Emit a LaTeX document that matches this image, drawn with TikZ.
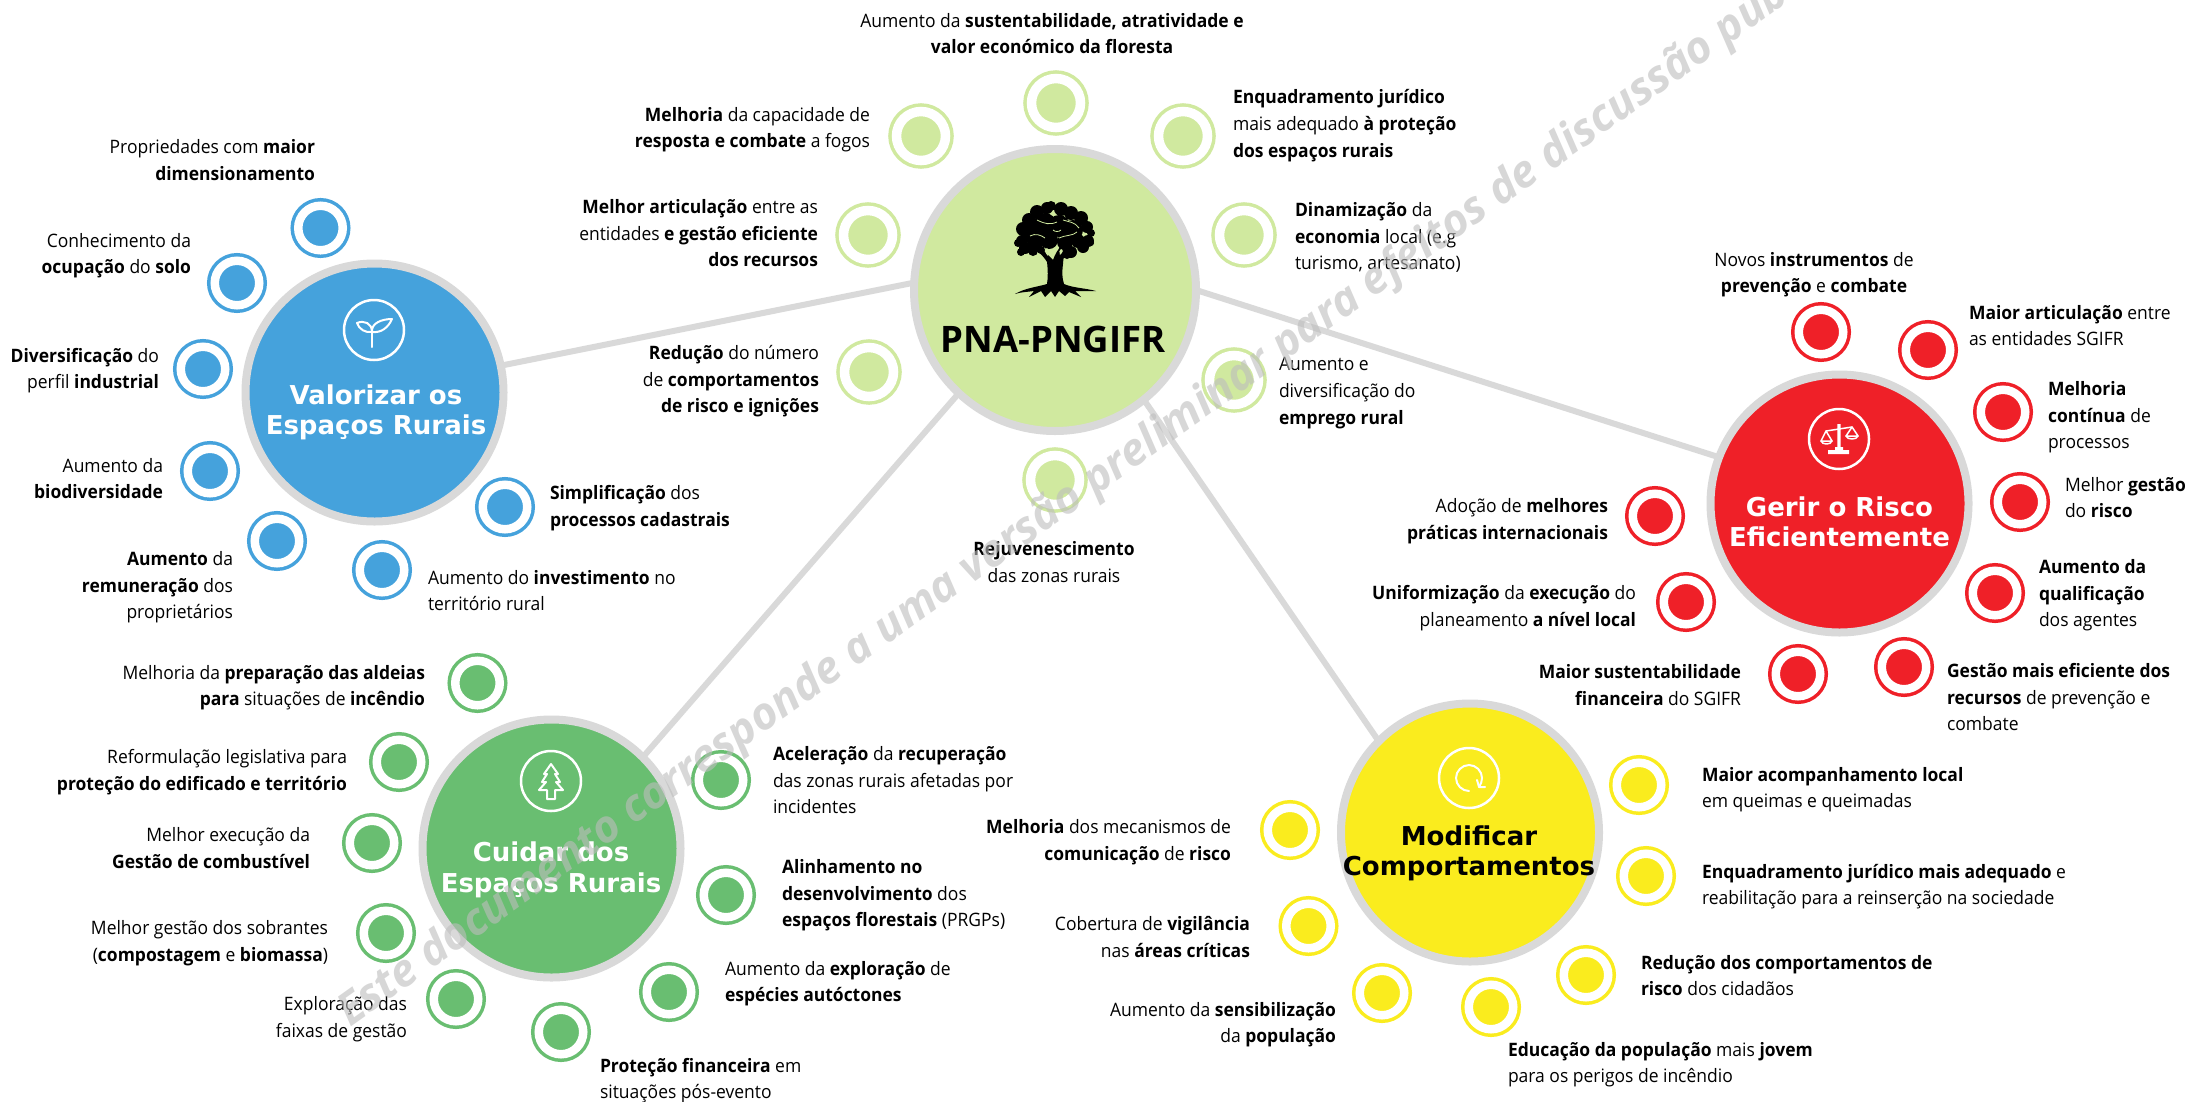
\documentclass[tikz,border=0pt]{standalone}
\usepackage{fontspec}
\setmainfont[FakeStretch=0.945]{Open Sans}
\newfontfamily\tfont{Open Sans}
\newfontfamily\hfont{DejaVu Sans}
\definecolor{cblue}{HTML}{45A2DC}
\definecolor{cred}{HTML}{EF2028}
\definecolor{cgreen}{HTML}{69BE71}
\definecolor{cyellow}{HTML}{FAEC1E}
\definecolor{clime}{HTML}{D0E99F}
\definecolor{cgray}{HTML}{D9D9D9}
\newcommand{\bo}[1]{\textbf{#1}}
\tikzset{
  hub/.style={circle,draw=cgray,line width=8pt,outer sep=0pt,inner sep=0pt,minimum size=258pt},
  bighub/.style={hub,minimum size=282pt},
  link/.style={draw=cgray,line width=6pt},
  sat/.style={circle,fill=#1,draw=#1,line width=3.5pt,double=white,double distance=8.5pt,inner sep=0pt,outer sep=0pt,minimum size=44.5pt},
  bigsat/.style={sat=#1,line width=3.5pt,double distance=9.5pt,minimum size=49pt},
  icon/.style={circle,draw=white,line width=2.5pt,inner sep=0pt,outer sep=0pt,minimum size=60pt},
  lbl/.style={inner sep=0pt,outer sep=0pt,yshift=-4pt,font=\fontsize{18.5}{26.8}\selectfont,text=black,execute at begin node=\strut,execute at end node=\strut},
  lr/.style={lbl,align=right,anchor=east},
  ll/.style={lbl,align=left,anchor=west},
  lc/.style={lbl,align=center,anchor=center},
  head/.style={inner sep=0pt,align=center,font=\hfont\bfseries\fontsize{26}{30.5}\selectfont},
  mark/.style={line width=2pt,draw=#1,line cap=round,line join=round}
}
\begin{document}
\begin{tikzpicture}[x=1pt,y=-1pt]
\useasboundingbox (0,0) rectangle (2192,1101);
\fill[white] (0,0) rectangle (2192,1101);
% hubs
\node[bighub,fill=clime] (pna) at (1055,290) {};
\node[hub,fill=cblue] (val) at (374.5,392.5) {};
\node[hub,fill=cred] (ger) at (1839.5,503.5) {};
\node[hub,fill=cgreen] (cui) at (551.5,848.5) {};
\node[hub,fill=cyellow] (mod) at (1470,832.5) {};
% connectors
\draw[link] (pna.177) -- (val.12.5);
\draw[link] (pna.0) -- (ger.159.7);
\draw[link] (pna.227.5) -- (cui.45);
\draw[link] (pna.309.7) -- (mod.135);
% satellites
\foreach \n/\x/\y in {a1/1056/103,a2/921/136,a3/1183/136,a4/1244/235,a5/1234/380,a6/1055/480,a7/868/235,a8/869/372}
  \node[bigsat=clime] (\n) at (\x,\y) {};
\foreach \n/\x/\y in {b1/320.5/228,b2/237/283,b3/203/369,b4/210/471,b5/277/541,b6/382/570,b7/505/507}
  \node[sat=cblue] (\n) at (\x,\y) {};
\foreach \n/\x/\y in {c1/1821/332,c2/1928/350,c3/2003/412,c4/2020/502,c5/1995/593,c6/1904/667,c7/1798/674,c8/1686/602,c9/1655/516}
  \node[sat=cred] (\n) at (\x,\y) {};
\foreach \n/\x/\y in {d1/477.5/683,d2/399/762,d3/372/843,d4/386/933,d5/456/999,d6/561/1032,d7/669/992,d8/726/895,d9/721/780}
  \node[sat=cgreen] (\n) at (\x,\y) {};
\foreach \n/\x/\y in {e1/1290/830,e2/1308.5/926,e3/1382/993,e4/1491/1007,e5/1586/975,e6/1646/876,e7/1639/785}
  \node[sat=cyellow] (\n) at (\x,\y) {};
% hub titles
\node[inner sep=0pt,font=\tfont\bfseries\fontsize{36.5}{40}\selectfont] (pnat) at (1053,339) {PNA-PNGIFR};
\node[head,text=white] (valt) at (376,412.5) {Valorizar os\\Espaços Rurais};
\node[head,text=white] (gert) at (1839.5,522) {Gerir o Risco\\Eficientemente};
\node[head,text=white] (cuit) at (551,870) {Cuidar dos\\Espaços Rurais};
\node[head,text=black] (modt) at (1469,853.5) {Modificar\\Comportamentos};
% icons
\node[icon] (ival) at (374,330) {};
\node[icon] (iger) at (1839,439) {};
\node[icon] (icui) at (551,781) {};
\node[icon] (imod) at (1469,778) {};
% sprout
\begin{scope}[shift={(374,331)},mark=white]
\draw (-2,-3) -- (-2,16);
\draw (-17,-8) .. controls (-10,-11) and (-2,-8) .. (-2,1) .. controls (-9,2) and (-15,-2) .. (-17,-8) -- cycle;
\draw (18,-12) .. controls (14,-3) and (7,2) .. (-2,1) .. controls (-3,-8) and (8,-12) .. (18,-12) -- cycle;
\end{scope}
% scales
\begin{scope}[shift={(1839,440)}]
\fill[white] (-1.7,-16) rectangle (1.7,8) (-11,10) rectangle (10,14) (-4,7) rectangle (4,11);
\draw[mark=white,line width=1.5pt] (-13,-9) -- (13,-13);
\draw[mark=white,line width=1.5pt] (-18,1) -- (-13,-9) -- (-7,1) -- cycle;
\draw[mark=white,line width=1.5pt] (7,-4) -- (13,-13) -- (19,-4) -- cycle;
\draw[mark=white,line width=1.5pt] (-18,1) .. controls (-17,5) and (-8,5) .. (-7,1);
\draw[mark=white,line width=1.5pt] (7,-4) .. controls (8,0) and (18,0) .. (19,-4);
\end{scope}
% fir
\begin{scope}[shift={(551,781)},mark=white]
\draw (0,-17) -- (7,-7) -- (4,-7) -- (9,1) -- (5,1) -- (12,9) -- (4,9) -- (4,18) -- (-4,18) -- (-4,9) -- (-12,9) -- (-5,1) -- (-9,1) -- (-4,-7) -- (-7,-7) -- cycle;
\end{scope}
% refresh
\begin{scope}[shift={(1469,778)}]
\draw[mark=white] (0,13) .. controls (-7,13) and (-13,7) .. (-13,0) .. controls (-13,-7) and (-7,-13) .. (0,-13) .. controls (7,-13) and (13,-7) .. (13,0) .. controls (13,3) and (12,6) .. (10,9);
\draw[mark=white] (8,2) -- (10,9) -- (16,9);
\end{scope}
% tree
\begin{scope}[shift={(1055,250)}]
\foreach \x/\y/\r in {-33/-9/6,-37/-7/4,-30/-2/6,-34/2/4,-32/-21/7,-26/-30/7,-18/-38/7,-8/-42/6,-4/-44/5,6/-41/7,16/-37/7,26/-32/7,32/-23/6,36/-17/4,33/-9/6,36/-7/3,28/-3/6,16/2/6,-22/-18/10,-10/-26/11,4/-24/11,18/-20/10,-20/-6/8,-6/-10/9,10/-8/8,23/-9/7,-14/0/4,-22/1/5,12/5/4}
  \fill[black] (\x,\y) circle[radius=\r pt];
\fill[black] (-8,12) .. controls (-12,5) and (-19,0) .. (-21,-2) -- (-16,-4) .. controls (-12,0) and (-6,6) .. (-2,10) .. controls (0,4) and (4,-2) .. (6,-4) -- (14,-2) .. controls (10,2) and (8,8) .. (8,14) .. controls (7,22) and (7,28) .. (9,34) .. controls (18,38) and (30,38) .. (41,41) .. controls (30,41) and (22,41) .. (20,41) -- (26,47) -- (14,42) -- (10,46) -- (4,41) -- (0,47) -- (-4,41) -- (-10,47) -- (-14,41) -- (-26,47) -- (-21,41) .. controls (-28,42) and (-34,42) .. (-40,44) .. controls (-30,38) and (-18,37) .. (-8,34) .. controls (-7,28) and (-7,20) .. (-8,12) -- cycle;
\fill[clime] (-7,6) .. controls (-6,3) and (-5,0) .. (-8,-2) .. controls (-11,0) and (-10,3) .. (-7,6) -- cycle (5,5) .. controls (4,2) and (4,0) .. (6,-1) .. controls (9,0) and (8,2) .. (5,5) -- cycle;
\draw[clime,line width=.8pt] (-18,-30) .. controls (-10,-26) and (-5,-25) .. (2,-28) (8,-30) .. controls (14,-28) and (20,-28) .. (24,-22) (-25,-14) .. controls (-20,-17) and (-14,-15) .. (-10,-12) (4,-12) .. controls (10,-15) and (18,-14) .. (22,-18) (-2,-20) .. controls (0,-18) and (4,-18) .. (6,-20);
\end{scope}
% labels: central
\node[lc] (la1) at (1052,33.5) {Aumento da \bo{sustentabilidade, atratividade e}\\\bo{valor económico da floresta}};
\node[ll] (la2) at (1233,123.5) {\bo{Enquadramento jurídico}\\mais adequado \bo{à proteção}\\\bo{dos espaços rurais}};
\node[ll] (la3) at (1295,236) {\bo{Dinamização} da\\\bo{economia} local (e.g\\turismo, artesanato)};
\node[ll] (la4) at (1279,391) {Aumento e\\diversificação do\\\bo{emprego rural}};
\node[lc] (la5) at (1054,562) {\bo{Rejuvenescimento}\\das zonas rurais};
\node[lr] (la6) at (870,127.5) {\bo{Melhoria} da capacidade de\\\bo{resposta e combate} a fogos};
\node[lr] (la7) at (818,233) {\bo{Melhor articulação} entre as\\entidades \bo{e gestão eficiente}\\\bo{dos recursos}};
\node[lr] (la8) at (819,379) {\bo{Redução} do número\\de \bo{comportamentos}\\\bo{de risco e ignições}};
% labels: valorizar
\node[lr] (lb1) at (315,160) {Propriedades com \bo{maior}\\\bo{dimensionamento}};
\node[lr] (lb2) at (191,253.5) {Conhecimento da\\\bo{ocupação} do \bo{solo}};
\node[lr] (lb3) at (159,368.5) {\bo{Diversificação} do\\perfil \bo{industrial}};
\node[lr] (lb4) at (163,478.5) {Aumento da\\\bo{biodiversidade}};
\node[lr] (lb5) at (233,585) {\bo{Aumento} da\\\bo{remuneração} dos\\proprietários};
\node[ll] (lb6) at (428,590.5) {Aumento do \bo{investimento} no\\território rural};
\node[ll] (lb7) at (550,506) {\bo{Simplificação} dos\\\bo{processos cadastrais}};
% labels: gerir
\node[lc] (lc1) at (1814,272.5) {Novos \bo{instrumentos} de\\\bo{prevenção} e \bo{combate}};
\node[ll] (lc2) at (1969,325.5) {\bo{Maior articulação} entre\\as entidades SGIFR};
\node[ll] (lc3) at (2048,415) {\bo{Melhoria}\\\bo{contínua} de\\processos};
\node[ll] (lc4) at (2065,497.5) {Melhor \bo{gestão}\\do \bo{risco}};
\node[ll] (lc5) at (2039,593) {\bo{Aumento da}\\\bo{qualificação}\\dos agentes};
\node[ll] (lc6) at (1947,697) {\bo{Gestão mais eficiente dos}\\\bo{recursos} de prevenção e\\combate};
\node[lr] (lc7) at (1741,685) {\bo{Maior sustentabilidade}\\\bo{financeira} do SGIFR};
\node[lr] (lc8) at (1636,606) {\bo{Uniformização} da \bo{execução} do\\planeamento \bo{a nível local}};
\node[lr] (lc9) at (1608,519) {Adoção de \bo{melhores}\\\bo{práticas internacionais}};
% labels: modificar
\node[lr] (le1) at (1231,840) {\bo{Melhoria} dos mecanismos de\\\bo{comunicação} de \bo{risco}};
\node[lr] (le2) at (1250,937) {Cobertura de \bo{vigilância}\\nas \bo{áreas críticas}};
\node[lr] (le3) at (1336,1022.5) {Aumento da \bo{sensibilização}\\da \bo{população}};
\node[ll] (le4) at (1508,1062.5) {\bo{Educação da população} mais \bo{jovem}\\para os perigos de incêndio};
\node[ll] (le5) at (1641,975.5) {\bo{Redução dos comportamentos de}\\\bo{risco} dos cidadãos};
\node[ll] (le6) at (1702,884.5) {\bo{Enquadramento jurídico mais adequado} e\\reabilitação para a reinserção na sociedade};
\node[ll] (le7) at (1702,787.5) {\bo{Maior acompanhamento local}\\em queimas e queimadas};
% labels: cuidar
\node[lr] (ld1) at (425,685.5) {Melhoria da \bo{preparação das aldeias}\\\bo{para} situações de \bo{incêndio}};
\node[lr] (ld2) at (347,770) {Reformulação legislativa para\\\bo{proteção do edificado e território}};
\node[lr] (ld3) at (310,848) {Melhor execução da\\\bo{Gestão de combustível}};
\node[lr] (ld4) at (328,941) {Melhor gestão dos sobrantes\\(\bo{compostagem} e \bo{biomassa})};
\node[lr] (ld5) at (407,1017) {Exploração das\\faixas de gestão};
\node[ll] (ld6) at (773,780) {\bo{Aceleração} da \bo{recuperação}\\das zonas rurais afetadas por\\incidentes};
\node[ll] (ld7) at (782,893) {\bo{Alinhamento no}\\\bo{desenvolvimento} dos\\\bo{espaços florestais} (PRGPs)};
\node[ll] (ld8) at (725,981.5) {Aumento da \bo{exploração} de\\\bo{espécies autóctones}};
\node[ll] (ld9) at (600,1078.5) {\bo{Proteção financeira} em\\situações pós-evento};
% watermark
\begin{scope}
\clip (0,0) rectangle (2192,1101);
\node[anchor=base west,rotate=35.5,inner sep=0pt,text=black!26,opacity=.6,font=\tfont\bfseries\itshape\fontsize{44.5}{50}\selectfont] (wm) at (350,1028) {Este documento corresponde a uma versão preliminar para efeitos de discussão pública};
\end{scope}
\end{tikzpicture}
\end{document}
